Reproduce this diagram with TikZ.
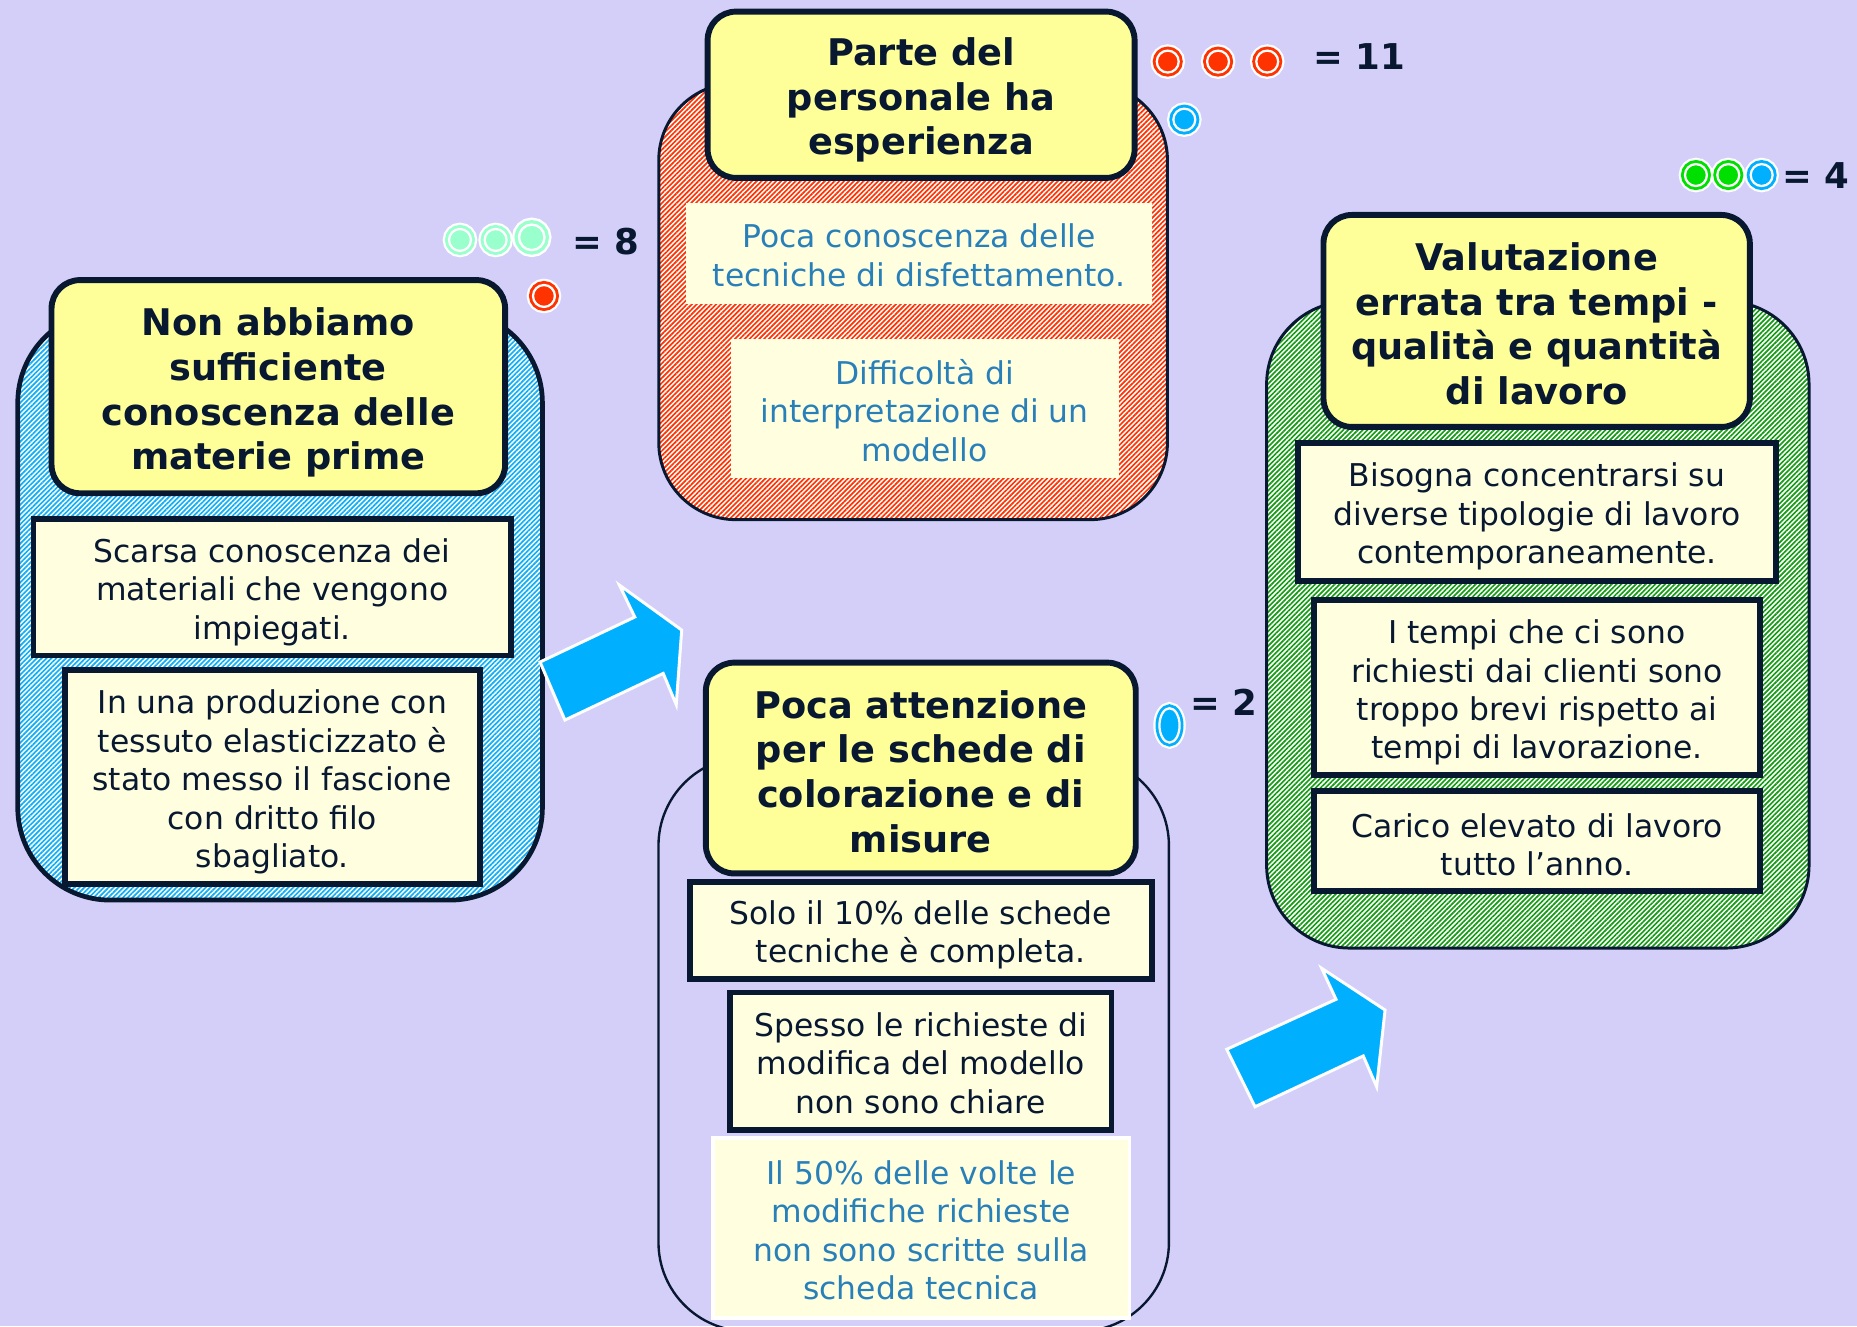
\documentclass[tikz,border=0pt]{standalone}
\usepackage{fontspec}
\setmainfont{DejaVu Sans}
\usetikzlibrary{patterns.meta,shapes.geometric}
\definecolor{bg}{RGB}{212,207,249}
\definecolor{navy}{RGB}{8,24,48}
\definecolor{ttlyel}{RGB}{255,255,153}
\definecolor{boxyel}{RGB}{255,255,224}
\definecolor{txtblue}{RGB}{41,128,185}
\definecolor{hblue}{RGB}{15,175,248}
\definecolor{hred}{RGB}{255,50,0}
\definecolor{hgreen}{RGB}{20,155,20}
\definecolor{arrowblue}{RGB}{0,176,255}
\definecolor{dotred}{RGB}{255,51,0}
\definecolor{dotblue}{RGB}{0,176,255}
\definecolor{dotgreen}{RGB}{0,224,0}
\definecolor{dotmint}{RGB}{153,255,204}
\tikzset{
  hatchbox/.style={draw=navy, preaction={fill=white},
    pattern={Lines[angle=45,distance=2.9pt,line width=1.4pt]}, pattern color=#1},
  bodytxt/.style={align=center, inner sep=0pt, text=navy,
    font={\fontsize{26.5}{32.5}\selectfont}},
  bluetxt/.style={bodytxt, text=txtblue},
  titletxt/.style={align=center, inner sep=0pt, text=navy,
    font={\fontsize{31}{37.7}\selectfont\bfseries}},
  contentbox/.style={draw=navy, line width=5pt, fill=boxyel},
  plainbox/.style={fill=boxyel},
  titlebox/.style={draw=navy, line width=5pt, fill=ttlyel, rounded corners=24pt},
  dot/.style={circle, inner sep=0pt, minimum size=18.5pt, fill=#1, draw=white,
    line width=1.9pt, preaction={draw=white, line width=10.6pt},
    preaction={draw=#1, line width=6.8pt}},
  bigdot/.style={circle, inner sep=0pt, minimum size=21.5pt, fill=#1, draw=white,
    line width=2pt, preaction={draw=white, line width=11.8pt},
    preaction={draw=#1, line width=7.6pt}},
  ovaldot/.style={ellipse, inner sep=0pt, minimum width=17pt, minimum height=29pt,
    fill=#1, draw=white, line width=1.9pt, preaction={draw=white, line width=10.4pt},
    preaction={draw=#1, line width=6.6pt}},
  countlbl/.style={anchor=west, inner sep=0pt, text=navy,
    font={\fontsize{30}{36}\selectfont\bfseries}},
  blockarrow/.style={fill=arrowblue, draw=white, line width=2.5pt, line join=miter},
}
\begin{document}
\begin{tikzpicture}[x=1pt,y=-1pt]
\fill[bg] (0,0) rectangle (1568,1120);
\useasboundingbox (0,0) rectangle (1568,1120);

% ---------- outer group boxes ----------
\node[hatchbox=hblue, line width=4pt, rounded corners=78pt,
  minimum width=443pt, minimum height=498pt] (bOuter) at (236.5,511) {};
\node[hatchbox=hred, line width=2.5pt, rounded corners=65pt,
  minimum width=429.5pt, minimum height=368.5pt] (rOuter) at (771,254.5) {};
\node[hatchbox=hgreen, line width=2.5pt, rounded corners=70pt,
  minimum width=458pt, minimum height=546pt] (gOuter) at (1298.5,527.5) {};
\node[draw=navy, line width=2pt, rounded corners=75pt,
  minimum width=431pt, minimum height=485pt] (wOuter) at (771.5,881.5) {};

% ---------- blue group ----------
\node[titlebox, minimum width=383pt, minimum height=180pt] (bTitle) at (235,326.5) {};
\node[titletxt] (bTitleT) at ([yshift=-5pt]bTitle.center)
  {Non abbiamo\\sufficiente\\conoscenza delle\\materie prime};
\node[contentbox, minimum width=403pt, minimum height=115pt] (bBox1) at (229.8,496) {};
\node[bodytxt] (bBox1T) at ([yshift=-4pt]bBox1.center)
  {Scarsa conoscenza dei\\materiali che vengono\\impiegati.};
\node[contentbox, minimum width=350pt, minimum height=181pt] (bBox2) at (230,656) {};
\node[bodytxt] (bBox2T) at ([yshift=-4.5pt]bBox2.center)
  {In una produzione con\\tessuto elasticizzato è\\stato messo il fascione\\con dritto filo\\sbagliato.};

% ---------- red group ----------
\node[titlebox, minimum width=360.5pt, minimum height=140.4pt] (rTitle) at (777.75,80) {};
\node[titletxt] (rTitleT) at ([yshift=-4.5pt]rTitle.center)
  {Parte del\\personale ha\\esperienza};
\node[plainbox, minimum width=394pt, minimum height=85.6pt] (rBox1) at (776,214.2) {};
\node[bluetxt] (rBox1T) at ([yshift=-1.5pt]rBox1.center)
  {Poca conoscenza delle\\tecniche di disfettamento.};
\node[plainbox, minimum width=327.5pt, minimum height=118pt] (rBox2) at (780.75,345) {};
\node[bluetxt] (rBox2T) at ([yshift=-1.5pt]rBox2.center)
  {Difficoltà di\\interpretazione di un\\modello};

% ---------- green group ----------
\node[titlebox, minimum width=360pt, minimum height=179pt] (gTitle) at (1297.5,271) {};
\node[titletxt] (gTitleT) at ([yshift=-2.5pt]gTitle.center)
  {Valutazione\\errata tra tempi -\\qualità e quantità\\di lavoro};
\node[contentbox, minimum width=403.5pt, minimum height=116.4pt] (gBox1) at (1297.75,432.3) {};
\node[bodytxt] (gBox1T) at ([yshift=-4pt]gBox1.center)
  {Bisogna concentrarsi su\\diverse tipologie di lavoro\\contemporaneamente.};
\node[contentbox, minimum width=376.6pt, minimum height=147.6pt] (gBox2) at (1297.8,580.3) {};
\node[bodytxt] (gBox2T) at ([yshift=-4.5pt]gBox2.center)
  {I tempi che ci sono\\richiesti dai clienti sono\\troppo brevi rispetto ai\\tempi di lavorazione.};
\node[contentbox, minimum width=376.6pt, minimum height=84.5pt] (gBox3) at (1297.8,710.25) {};
\node[bodytxt] (gBox3T) at ([yshift=-3pt]gBox3.center)
  {Carico elevato di lavoro\\tutto l’anno.};

% ---------- bottom group ----------
\node[titlebox, minimum width=363pt, minimum height=178pt] (wTitle) at (777.5,648.5) {};
\node[titletxt] (wTitleT) at ([yshift=-3pt]wTitle.center)
  {Poca attenzione\\per le schede di\\colorazione e di\\misure};
\node[contentbox, minimum width=390pt, minimum height=82pt] (wBox1) at (777.5,785.5) {};
\node[bodytxt] (wBox1T) at ([yshift=-4pt]wBox1.center)
  {Solo il 10\% delle schede\\tecniche è completa.};
\node[contentbox, minimum width=322pt, minimum height=116pt] (wBox2) at (777.5,896) {};
\node[bodytxt] (wBox2T) at ([yshift=-1.5pt]wBox2.center)
  {Spesso le richieste di\\modifica del modello\\non sono chiare};
\node[plainbox, draw=white, line width=3pt, minimum width=352pt, minimum height=152pt] (wBox3) at (777.85,1037) {};
\node[bluetxt] (wBox3T) at ([yshift=-2pt]wBox3.center)
  {Il 50\% delle volte le\\modifiche richieste\\non sono scritte sulla\\scheda tecnica};

% ---------- arrows ----------
\draw[blockarrow] (456,559) -- (536,521) -- (523,494) -- (575.6,532) -- (571,595)
  -- (560,568.6) -- (477,608) -- cycle;
\draw[blockarrow] (1035.8,886) -- (1128.1,843.8) -- (1116,817.6) -- (1169.5,852.8)
  -- (1162.4,917.6) -- (1151.1,891.6) -- (1059.7,934.5) -- cycle;

% ---------- dots and counts ----------
\node[dot=dotmint] (m1) at (388.4,202.6) {};
\node[dot=dotmint] (m2) at (418.5,202.6) {};
\node[bigdot=dotmint] (m3) at (449,200.4) {};
\node[dot=dotred] (rd0) at (459.3,249.9) {};
\node[countlbl] (c8) at (483,204) {= 8};

\node[dot=dotred] (rd1) at (986,52) {};
\node[dot=dotred] (rd2) at (1028.5,52) {};
\node[dot=dotred] (rd3) at (1070,52) {};
\node[dot=dotblue] (bd1) at (1000,101) {};
\node[countlbl] (c11) at (1109,48) {= 11};

\node[dot=dotgreen] (gd1) at (1432,147.8) {};
\node[dot=dotgreen] (gd2) at (1459.3,147.8) {};
\node[dot=dotblue] (bd2) at (1487.5,147.8) {};
\node[countlbl] (c4) at (1505,148) {= 4};

\node[ovaldot=dotblue] (bd3) at (987.5,612.5) {};
\node[countlbl] (c2) at (1005,593) {= 2};
\end{tikzpicture}
\end{document}
